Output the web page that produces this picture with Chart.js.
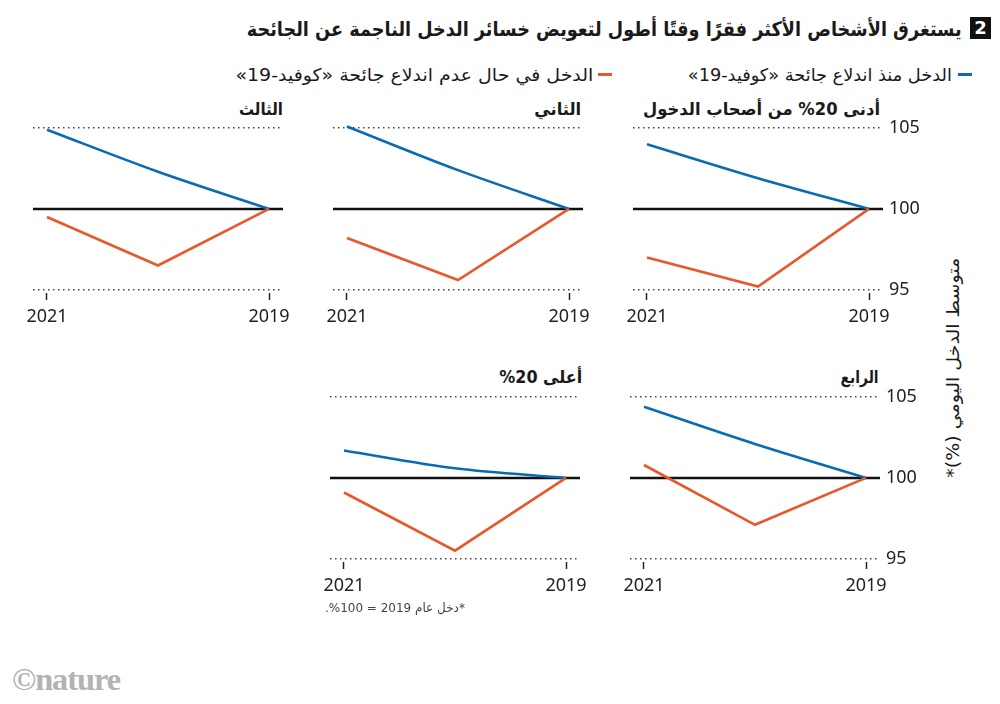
<!DOCTYPE html>
<html lang="ar">
<head>
<meta charset="utf-8">
<script src="https://cdn.jsdelivr.net/npm/chart.js@4.4.1/dist/chart.umd.min.js"></script>
<style>
  body { margin: 0; width: 1000px; height: 704px; background: #fff; position: relative; overflow: hidden;
         font-family: 'DejaVu Sans', sans-serif; color: #1a1a1a; }
  .t { position: absolute; white-space: nowrap; line-height: 1.15; direction: rtl; transform-origin: right center; }
  .b { font-weight: bold; }
  canvas { position: absolute; }
  #num { position: absolute; left: 970px; top: 17px; width: 21px; height: 22px; background: #111; color: #fff;
         font: bold 18px 'DejaVu Sans'; text-align: center; line-height: 22px; }
  .dash { position: absolute; height: 3px; width: 14px; }
</style>
</head>
<body>

<div id="num">2</div>
<div class="t b" id="title" style="font-size:20px">يستغرق الأشخاص الأكثر فقرًا وقتًا أطول لتعويض خسائر الدخل الناجمة عن الجائحة</div>

<div class="dash" style="left:958px;top:73px;background:#0a6ab4"></div>
<div class="t" id="leg1" style="font-size:17.5px">الدخل منذ اندلاع جائحة «كوفيد-19»</div>
<div class="dash" style="left:598px;top:73px;background:#e8582a"></div>
<div class="t" id="leg2" style="font-size:17.5px">الدخل في حال عدم اندلاع جائحة «كوفيد-19»</div>

<div class="t b" id="name0" style="font-size:17px"></div>
<div class="t b" id="name1" style="font-size:17px"></div>
<div class="t b" id="name2" style="font-size:17px"></div>
<div class="t b" id="name3" style="font-size:17px"></div>
<div class="t b" id="name4" style="font-size:17px"></div>

<canvas id="p0"></canvas>
<canvas id="p1"></canvas>
<canvas id="p2"></canvas>
<canvas id="p3"></canvas>
<canvas id="p4"></canvas>

<div class="t" id="ytitle" style="font-size:17px;transform-origin:center center">متوسط الدخل اليومي (%)*</div>
<div class="t" id="note" style="font-size:12.5px;color:#444">*دخل عام 2019 = 100%.</div>
<div class="t b" id="logo" style="font:bold 31px 'Liberation Serif';color:#b3b3b3;direction:ltr;transform-origin:left center;letter-spacing:-1px">©nature</div>

<script>
const years = [2019, 2020, 2021];
const xTicks = [2019, 2021];
const yTicks = [95, 100, 105];
const panelNames = ['أدنى 20% من أصحاب الدخول', 'الثاني', 'الثالث', 'الرابع', 'أعلى 20%'];

// income since the pandemic (blue)
const covidLowest = [100, 101.9, 104.0];
const covidSecond = [100, 102.4, 105.1];
const covidThird  = [100, 102.3, 104.9];
const covidFourth = [100, 102.1, 104.4];
const covidTop    = [100, 100.6, 101.7];

// income had there been no pandemic (orange)
const noCovidLowest = [100, 95.2, 97.0];
const noCovidSecond = [100, 95.6, 98.2];
const noCovidThird  = [100, 96.5, 99.5];
const noCovidFourth = [100, 97.1, 100.8];
const noCovidTop    = [100, 95.5, 99.1];

const BLUE = '#0a6ab4';
const ORANGE = '#e8582a';

Chart.defaults.font.family = "'Noto Sans', 'DejaVu Sans', sans-serif";
Chart.defaults.color = '#222';

const baseline = {
    id: 'baseline',
    beforeDatasetsDraw(chart) {
        const {ctx, chartArea, scales} = chart;
        const y = scales.y.getPixelForValue(100);
        ctx.save();
        ctx.strokeStyle = '#111';
        ctx.lineWidth = 2.5;
        ctx.beginPath();
        ctx.moveTo(chartArea.left, y);
        ctx.lineTo(chartArea.right, y);
        ctx.stroke();
        ctx.restore();
    }
};

function makePanel(id, plotLeft, plotTop, covid, noCovid, showY) {
    const pad = 20;
    const plotW = 250, plotH = 173.3, xAxisH = 40, yAxisW = showY ? 50 : 0;
    const canvas = document.getElementById(id);
    canvas.width = pad + plotW + (showY ? yAxisW : pad);
    canvas.height = pad + plotH + xAxisH;
    canvas.style.left = (plotLeft - pad) + 'px';
    canvas.style.top = (plotTop - pad) + 'px';

    new Chart(canvas.getContext('2d'), {
        type: 'line',
        data: {
            datasets: [{
                data: years.map((x, i) => ({x: x, y: noCovid[i]})),
                borderColor: ORANGE, borderWidth: 2.6, pointRadius: 0, tension: 0, clip: false
            }, {
                data: years.map((x, i) => ({x: x, y: covid[i]})),
                borderColor: BLUE, borderWidth: 2.6, pointRadius: 0,
                cubicInterpolationMode: 'monotone', clip: false
            }]
        },
        options: {
            responsive: false,
            animation: false,
            layout: {padding: {left: pad, right: showY ? 0 : pad, top: pad, bottom: 0}},
            plugins: {legend: {display: false}, tooltip: {enabled: false}},
            scales: {
                x: {
                    type: 'linear', reverse: true, min: 2018.874, max: 2021.126,
                    afterBuildTicks: s => { s.ticks = xTicks.map(v => ({value: v})); },
                    ticks: {callback: v => String(v), font: {size: 18}, color: '#222', padding: 6,
                            maxRotation: 0, autoSkip: false},
                    grid: {drawOnChartArea: false, drawTicks: true, tickLength: 7, tickColor: '#222', tickWidth: 1.5},
                    border: {display: false},
                    afterFit: s => { s.height = xAxisH; s.paddingLeft = 0; s.paddingRight = 0; }
                },
                y: {
                    position: 'right', min: 94.8, max: 105.5,
                    afterBuildTicks: s => { s.ticks = yTicks.map(v => ({value: v})); },
                    ticks: {display: showY, callback: v => String(v), font: {size: 18}, color: '#222', padding: 6},
                    grid: {drawTicks: false, lineWidth: 1.5,
                           color: c => (c.tick && c.tick.value === 100) ? 'rgba(0,0,0,0)' : '#444'},
                    border: {display: false, dash: [1.5, 3.5]},
                    afterFit: s => { s.width = yAxisW; s.paddingTop = 0; s.paddingBottom = 0; }
                }
            }
        },
        plugins: [baseline]
    });
}

makePanel('p0', 633, 120.2, covidLowest, noCovidLowest, true);
makePanel('p1', 333, 120.2, covidSecond, noCovidSecond, false);
makePanel('p2', 33, 120.2, covidThird, noCovidThird, false);
makePanel('p3', 630, 388.6, covidFourth, noCovidFourth, true);
makePanel('p4', 330, 388.6, covidTop, noCovidTop, false);

// text placement: right edge (or left edge), vertical centre, target width
function place(id, right, cy, w, left) {
    const el = document.getElementById(id);
    const r = el.getBoundingClientRect();
    if (left !== undefined) el.style.left = left + 'px';
    else el.style.right = (1000 - right) + 'px';
    el.style.top = (cy - r.height / 2) + 'px';
    if (w) el.style.transform = 'scaleX(' + (w / r.width) + ')';
}

panelNames.forEach((n, i) => { document.getElementById('name' + i).textContent = n; });

place('title', 962, 29, 715);
place('leg1', 952, 75, 264);
place('leg2', 593, 75, 358);
place('name0', 880, 110, 237);
place('name1', 581, 110, 47);
place('name2', 283, 110, 44);
place('name3', 879, 378, 38);
place('name4', 582, 378, 83);
place('note', 465, 608, 140);
place('logo', 0, 680, 108, 12);

const yt = document.getElementById('ytitle');
const yr = yt.getBoundingClientRect();
yt.style.left = (953 - yr.width / 2) + 'px';
yt.style.top = (368 - yr.height / 2) + 'px';
yt.style.transform = 'rotate(-90deg) scaleX(' + (220 / yr.width) + ')';
</script>
</body>
</html>
